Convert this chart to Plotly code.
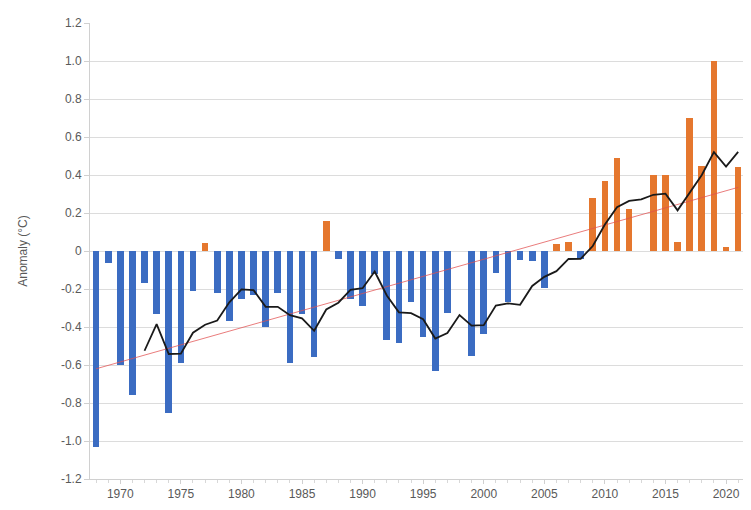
import plotly.graph_objects as go

years = list(range(1968, 2022))
anomaly = [
    -1.03, -0.065, -0.60, -0.76, -0.17, -0.33, -0.85, -0.59, -0.21, 0.04,
    -0.22, -0.37, -0.25, -0.23, -0.40, -0.22, -0.59, -0.33, -0.56, 0.16,
    -0.04, -0.25, -0.29, -0.12, -0.47, -0.485, -0.27, -0.45, -0.63, -0.325,
    0.0, -0.55, -0.435, -0.115, -0.27, -0.045, -0.055, -0.195, 0.035, 0.05,
    -0.04, 0.28, 0.37, 0.49, 0.22, 0.0, 0.40, 0.40, 0.05, 0.70,
    0.45, 1.00, 0.02, 0.44,
]
ma_years = list(range(1972, 2022))
moving_avg = [
    -0.525, -0.385, -0.542, -0.54, -0.43, -0.388, -0.366, -0.27, -0.202, -0.206,
    -0.294, -0.294, -0.338, -0.354, -0.42, -0.308, -0.272, -0.204, -0.196, -0.108,
    -0.234, -0.323, -0.327, -0.359, -0.461, -0.432, -0.337, -0.393, -0.39, -0.287,
    -0.276, -0.283, -0.184, -0.136, -0.106, -0.042, -0.041, 0.026, 0.139, 0.23,
    0.264, 0.272, 0.296, 0.302, 0.214, 0.31, 0.40, 0.52, 0.444, 0.522,
]
trend_years = [1968, 2021]
trend_vals = [-0.62, 0.335]

ytick_vals = [1.2, 1.0, 0.8, 0.6, 0.4, 0.2, 0, -0.2, -0.4, -0.6, -0.8, -1.0, -1.2]
ytick_text = ["1.2", "1.0", "0.8", "0.6", "0.4", "0.2", "0", "-0.2", "-0.4", "-0.6", "-0.8", "-1.0", "-1.2"]
xtick_vals = [1970, 1975, 1980, 1985, 1990, 1995, 2000, 2005, 2010, 2015, 2020]

BLUE = "#3b6cc2"
ORANGE = "#e5772e"
colors = [ORANGE if v > 0 else BLUE for v in anomaly]

fig = go.Figure()
fig.add_trace(go.Bar(x=years, y=anomaly, marker=dict(color=colors, line=dict(width=0)),
                     width=0.55, showlegend=False))
fig.add_trace(go.Scatter(x=trend_years, y=trend_vals, mode="lines",
                         line=dict(color="rgba(225,80,80,0.75)", width=1), showlegend=False))
fig.add_trace(go.Scatter(x=ma_years, y=moving_avg, mode="lines",
                         line=dict(color="#1a1a1a", width=1.8), showlegend=False))

fig.update_layout(
    width=743, height=502,
    margin=dict(l=82, r=8, t=11, b=31),
    paper_bgcolor="white", plot_bgcolor="white",
    font=dict(family="Liberation Sans, Arial, sans-serif", size=12, color="#595959"),
    bargap=0,
)
fig.update_yaxes(
    range=[-1.2, 1.2], tickvals=ytick_vals, ticktext=ytick_text,
    showgrid=True, gridcolor="#dcdcdc", gridwidth=1, zeroline=False,
    showline=True, linecolor="#d0d0d0", ticks="outside", ticklen=5, tickcolor="#d0d0d0",
    title=dict(text="Anomaly (°C)", font=dict(size=12, color="#595959"), standoff=30),
)
fig.update_xaxes(
    range=[1967.5, 2021.4], tickvals=xtick_vals, showgrid=False, zeroline=False,
    showline=True, linecolor="#d0d0d0", ticks="outside", ticklen=4, tickcolor="#d0d0d0",
    minor=dict(dtick=1, tick0=1968, ticks="outside", ticklen=3, tickcolor="#d8d8d8"),
)

fig.write_html("out.html")
